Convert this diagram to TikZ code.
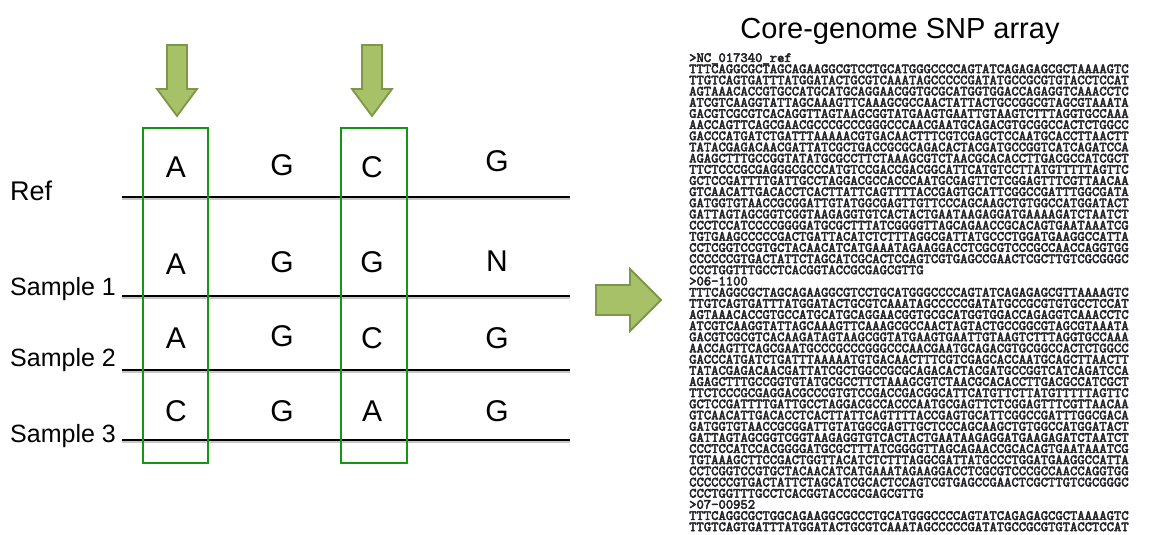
\documentclass[tikz,border=0pt]{standalone}
\usepackage{fontspec}
\setmainfont{Liberation Sans}
\newfontfamily\seqfont{lmmono10-regular.otf}[FakeBold=3.5]
\definecolor{arrowfill}{RGB}{166,193,104}
\definecolor{arrowedge}{RGB}{125,150,72}
\definecolor{boxgreen}{RGB}{20,150,20}
\definecolor{seqgray}{RGB}{35,35,40}
\begin{document}
\begin{tikzpicture}[x=1pt,y=-1pt,
  base/.style={font=\fontsize{30}{30}\selectfont, inner sep=0pt, anchor=base},
  rowlabel/.style={font=\fontsize{25}{25}\selectfont, inner sep=0pt, anchor=base west},
  seqblock/.style={font=\seqfont\fontsize{13.95}{11.17}\selectfont, inner sep=0pt,
    align=left, anchor=north west, text=seqgray},
  fatarrow/.style={fill=arrowfill, draw=arrowedge, line width=1.8pt, line join=miter},
  snpbox/.style={draw=boxgreen, line width=1.3pt},
  track/.style={line width=2.8pt, black},
  trackshadow/.style={line width=2.8pt, black!22}
]
\useasboundingbox (0,0) rectangle (1153,535);

% marker arrows above the two SNP columns
\draw[fatarrow] (167,45) -- (187,45) -- (187,89) -- (197,89) -- (177,116) -- (157,89) -- (167,89) -- cycle;
\draw[fatarrow] (362,45) -- (382,45) -- (382,89) -- (392,89) -- (372,116) -- (352,89) -- (362,89) -- cycle;

% sequence tracks
\foreach \name/\yy in {ref/197, sa/296, sb/370, sc/440}{
  \coordinate (\name L) at (122,\yy);
  \coordinate (\name R) at (570,\yy);
  \draw[trackshadow] ([yshift=-2pt]\name L) -- ([yshift=-2pt]\name R);
  \draw[track] (\name L) -- (\name R);
}

% SNP columns
\draw[snpbox] (143,128) rectangle (208,463);
\draw[snpbox] (341,128) rectangle (407,463);

% row labels
\node[rowlabel, font=\fontsize{27}{27}\selectfont] (lref) at (10,200) {Ref};
\node[rowlabel] (ls1) at (10,295) {Sample 1};
\node[rowlabel] (ls2) at (10,366) {Sample 2};
\node[rowlabel] (ls3) at (10,442) {Sample 3};

% bases
\node[base] (r0a) at (176,177) {A};
\node[base] (r0b) at (282,175) {G};
\node[base] (r0c) at (372,177) {C};
\node[base] (r0d) at (497,171) {G};
\node[base] (r1a) at (176,274) {A};
\node[base] (r1b) at (282,272) {G};
\node[base] (r1c) at (372,272) {G};
\node[base] (r1d) at (497,271) {N};
\node[base] (r2a) at (176,348) {A};
\node[base] (r2b) at (282,346) {G};
\node[base] (r2c) at (372,348) {C};
\node[base] (r2d) at (497,348) {G};
\node[base] (r3a) at (176,421) {C};
\node[base] (r3b) at (282,421) {G};
\node[base] (r3c) at (372,421) {A};
\node[base] (r3d) at (497,421) {G};

% transfer arrow
\draw[fatarrow] (596,285) -- (630,285) -- (630,269) -- (661,300) -- (630,331) -- (630,315) -- (596,315) -- cycle;

% title
\node[inner sep=0pt, anchor=base, font=\fontsize{29}{29}\selectfont] (title) at (900,38) {Core-genome SNP array};

% alignment text (FASTA records)
\node[seqblock] (fasta) at (689,53) {%
>NC\_017340\_ref\\
TTTCAGGCGCTAGCAGAAGGCGTCCTGCATGGGCCCCAGTATCAGAGAGCGCTAAAAGTC\\
TTGTCAGTGATTTATGGATACTGCGTCAAATAGCCCCCGATATGCCGCGTGTACCTCCAT\\
AGTAAACACCGTGCCATGCATGCAGGAACGGTGCGCATGGTGGACCAGAGGTCAAACCTC\\
ATCGTCAAGGTATTAGCAAAGTTCAAAGCGCCAACTATTACTGCCGGCGTAGCGTAAATA\\
GACGTCGCGTCACAGGTTAGTAAGCGGTATGAAGTGAATTGTAAGTCTTTAGGTGCCAAA\\
AACCAGTTCAGCGAACGCCCGCCCGGGCCCAACGAATGCAGACGTGCGGCCACTCTGGCC\\
GACCCATGATCTGATTTAAAAACGTGACAACTTTCGTCGAGCTCCAATGCACCTTAACTT\\
TATACGAGACAACGATTATCGCTGACCGCGCAGACACTACGATGCCGGTCATCAGATCCA\\
AGAGCTTTGCCGGTATATGCGCCTTCTAAAGCGTCTAACGCACACCTTGACGCCATCGCT\\
TTCTCCCGCGAGGGCGCCCATGTCCGACCGACGGCATTCATGTCCTTATGTTTTTAGTTC\\
GCTCCGATTTTGATTGCCTAGGACGCCACCCAATGCGAGTTCTCGGAGTTTCGTTAACAA\\
GTCAACATTGACACCTCACTTATTCAGTTTTACCGAGTGCATTCGGCCGATTTGGCGATA\\
GATGGTGTAACCGCGGATTGTATGGCGAGTTGTTCCCAGCAAGCTGTGGCCATGGATACT\\
GATTAGTAGCGGTCGGTAAGAGGTGTCACTACTGAATAAGAGGATGAAAAGATCTAATCT\\
CCCTCCATCCCCGGGGATGCGCTTTATCGGGGTTAGCAGAACCGCACAGTGAATAAATCG\\
TGTGAAGCCCCCGACTGATTACATCTCTTTAGGCGATTATGCCCTGGATGAAGGCCATTA\\
CCTCGGTCCGTGCTACAACATCATGAAATAGAAGGACCTCGCGTCCCGCCAACCAGGTGG\\
CCCCCCGTGACTATTCTAGCATCGCACTCCAGTCGTGAGCCGAACTCGCTTGTCGCGGGC\\
CCCTGGTTTGCCTCACGGTACCGCGAGCGTTG\\
>06-1100\\
TTTCAGGCGCTAGCAGAAGGCGTCCTGCATGGGCCCCAGTATCAGAGAGCGTTAAAAGTC\\
TTGTCAGTGATTTATGGATACTGCGTCAAATAGCCCCCGATATGCCGCGTGTGCCTCCAT\\
AGTAAACACCGTGCCATGCATGCAGGAACGGTGCGCATGGTGGACCAGAGGTCAAACCTC\\
ATCGTCAAGGTATTAGCAAAGTTCAAAGCGCCAACTAGTACTGCCGGCGTAGCGTAAATA\\
GACGTCGCGTCACAAGATAGTAAGCGGTATGAAGTGAATTGTAAGTCTTTAGGTGCCAAA\\
AACCAGTTCAGCGAATGCCCGCCCGGGCCCAACGAATGCAGACGTGCGGCCACTCTGGCC\\
GACCCATGATCTGATTTAAAAATGTGACAACTTTCGTCGAGCACCAATGCAGCTTAACTT\\
TATACGAGACAACGATTATCGCTGGCCGCGCAGACACTACGATGCCGGTCATCAGATCCA\\
AGAGCTTTGCCGGTGTATGCGCCTTCTAAAGCGTCTAACGCACACCTTGACGCCATCGCT\\
TTCTCCCGCGAGGACGCCCGTGTCCGACCGACGGCATTCATGTTCTTATGTTTTTAGTTC\\
GCTCCGATTTTGATTGCCTAGGACGCCACCCAATGCGAGTTCTCGGAGTTTCGTTAACAA\\
GTCAACATTGACACCTCACTTATTCAGTTTTACCGAGTGCATTCGGCCGATTTGGCGACA\\
GATGGTGTAACCGCGGATTGTATGGCGAGTTGCTCCCAGCAAGCTGTGGCCATGGATACT\\
GATTAGTAGCGGTCGGTAAGAGGTGTCACTACTGAATAAGAGGATGAAGAGATCTAATCT\\
CCCTCCATCCACGGGGATGCGCTTTATCGGGGTTAGCAGAACCGCACAGTGAATAAATCG\\
TGTAAAGCTTCCGACTGGTTACATCTCTTTAGGCGATTATGCCCTGGATGAAGGCCATTA\\
CCTCGGTCCGTGCTACAACATCATGAAATAGAAGGACCTCGCGTCCCGCCAACCAGGTGG\\
CCCCCCGTGACTATTCTAGCATCGCACTCCAGTCGTGAGCCGAACTCGCTTGTCGCGGGC\\
CCCTGGTTTGCCTCACGGTACCGCGAGCGTTG\\
>07-00952\\
TTTCAGGCGCTGGCAGAAGGCGCCCTGCATGGGCCCCAGTATCAGAGAGCGCTAAAAGTC\\
TTGTCAGTGATTTATGGATACTGCGTCAAATAGCCCCCGATATGCCGCGTGTACCTCCAT};
\end{tikzpicture}
\end{document}
